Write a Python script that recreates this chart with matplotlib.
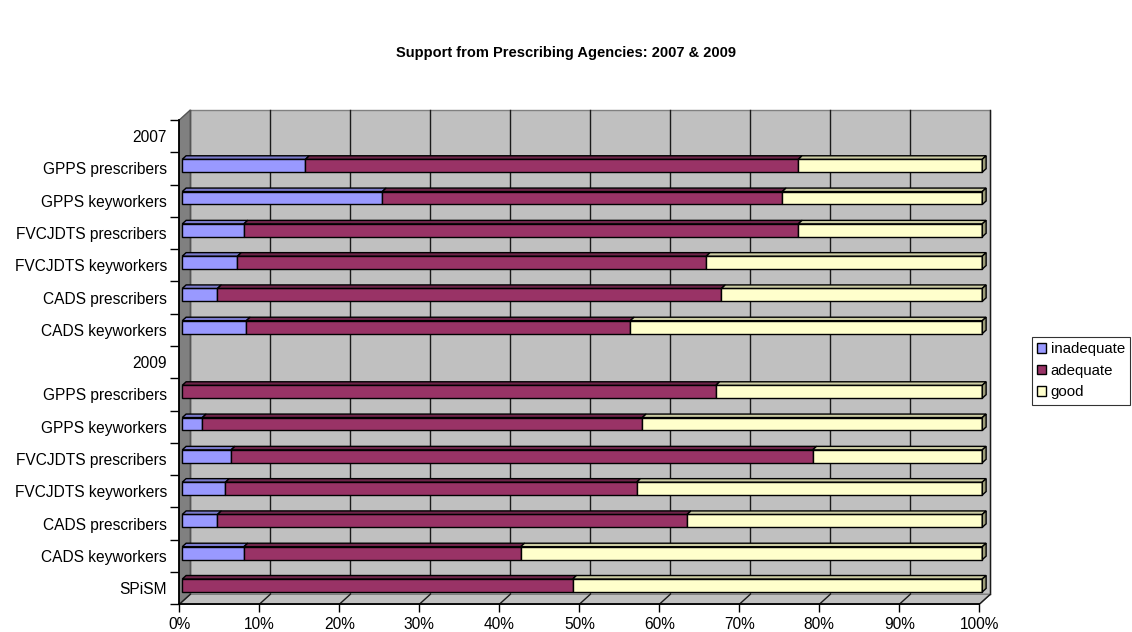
import numpy as np
import matplotlib.pyplot as plt
from matplotlib.patches import Polygon, Patch

plt.rcParams['font.family'] = ['Liberation Sans', 'DejaVu Sans']

# rows from top to bottom; "2007"/"2009" are group headers with no bars
categories = ['2007', 'GPPS prescribers', 'GPPS keyworkers', 'FVCJDTS prescribers',
              'FVCJDTS keyworkers', 'CADS prescribers', 'CADS keyworkers',
              '2009', 'GPPS prescribers', 'GPPS keyworkers', 'FVCJDTS prescribers',
              'FVCJDTS keyworkers', 'CADS prescribers', 'CADS keyworkers', 'SPiSM']
inadequate = [0, 15.4, 25.0, 7.7, 6.9, 4.4, 8.0, 0, 0, 2.5, 6.1, 5.4, 4.4, 7.7, 0]
adequate = [0, 61.6, 50.0, 69.3, 58.6, 63.0, 48.0, 0, 66.7, 55.0, 72.7, 51.4, 58.7, 34.6, 48.8]
good = [0, 23.0, 25.0, 23.0, 34.5, 32.6, 44.0, 0, 33.3, 42.5, 21.2, 43.2, 36.9, 57.7, 51.2]

series_names = ['inadequate', 'adequate', 'good']
face_colors = ['#9999FF', '#993366', '#FFFFCC']
top_colors = ['#7A7ACC', '#6E2449', '#CCCCA3']
cap_color = '#9C9C78'

W, H = 1132, 632
fig = plt.figure(figsize=(W / 100, H / 100), dpi=100)

# front plane of the 3D box in pixels
left_px, right_px, top_px, bottom_px = 179.3, 979.3, 120.0, 604.3
ax = fig.add_axes([left_px / W, 1 - bottom_px / H,
                   (right_px - left_px) / W, (bottom_px - top_px) / H])
n = len(categories)
ax.set_xlim(0, 100)
ax.set_ylim(n - 0.5, -0.5)
ax.set_facecolor('none')

px_x = (right_px - left_px) / 100.0
px_y = (bottom_px - top_px) / n
DX = 11 / px_x          # depth offset in data units
DY = -10 / px_y
y0, y1 = -0.5, n - 0.5

# back wall + gridlines
ax.add_patch(Polygon([(DX, y0 + DY), (100 + DX, y0 + DY), (100 + DX, y1 + DY), (DX, y1 + DY)],
                     closed=True, fc='#C0C0C0', ec='#808080', lw=1, zorder=0, clip_on=False))
for x in range(0, 101, 10):
    ax.plot([x + DX, x + DX], [y0 + DY, y1 + DY], color='#1a1a1a', lw=1, zorder=1, clip_on=False)

# side wall and floor
ax.add_patch(Polygon([(0, y0), (DX, y0 + DY), (DX, y1 + DY), (0, y1)],
                     closed=True, fc='#808080', ec='#555555', lw=1, zorder=2, clip_on=False))
ax.add_patch(Polygon([(0, y1), (100, y1), (100 + DX, y1 + DY), (DX, y1 + DY)],
                     closed=True, fc='#C0C0C0', ec='#808080', lw=1, zorder=2, clip_on=False))
for x in range(0, 101, 10):
    ax.plot([x, x + DX], [y1, y1 + DY], color='#1a1a1a', lw=1, zorder=2, clip_on=False)

# bars, placed partway into the depth
f0, f1 = 0.27, 0.62
bh = 0.40
ddx, ddy = (f1 - f0) * DX, (f1 - f0) * DY
values = np.array([inadequate, adequate, good])
cum = np.zeros(n)
for k in range(3):
    for i in range(n):
        w = values[k, i]
        if w <= 0:
            continue
        x0 = cum[i] + f0 * DX
        yc = i + f0 * DY
        ax.barh(yc, w, left=x0, height=bh, color=face_colors[k], edgecolor='black',
                lw=1, zorder=5, clip_on=False)
        yt = yc - bh / 2
        ax.add_patch(Polygon([(x0, yt), (x0 + w, yt), (x0 + w + ddx, yt + ddy), (x0 + ddx, yt + ddy)],
                             closed=True, fc=top_colors[k], ec='black', lw=1, zorder=5, clip_on=False))
        if k == 2:
            xr = x0 + w
            ax.add_patch(Polygon([(xr, yt), (xr + ddx, yt + ddy), (xr + ddx, yt + bh + ddy), (xr, yt + bh)],
                                 closed=True, fc=cap_color, ec='black', lw=1, zorder=5, clip_on=False))
    cum += values[k]

# axes
for s in ['top', 'right']:
    ax.spines[s].set_visible(False)
for s in ['left', 'bottom']:
    ax.spines[s].set_color('black')
    ax.spines[s].set_linewidth(1.3)
    ax.spines[s].set_zorder(6)

ax.set_yticks(range(n))
ax.set_yticklabels(categories, fontsize=11.2)
ax.set_yticks(np.arange(-0.5, n, 1), minor=True)
ax.tick_params(axis='y', which='major', length=0, pad=9)
ax.tick_params(axis='y', which='minor', length=6.5, width=1, color='black')
ax.set_xticks(range(0, 101, 10))
ax.set_xticklabels([f'{v}%' for v in range(0, 101, 10)], fontsize=11.2)
ax.tick_params(axis='x', length=6, width=1, color='black', pad=3.5)

fig.text(0.5, 1 - 53 / H, 'Support from Prescribing Agencies: 2007 & 2009',
         ha='center', va='center', fontsize=10.5, fontweight='bold')

handles = [Patch(facecolor=c, edgecolor='black', lw=1) for c in face_colors]
leg = fig.legend(handles, series_names, loc='upper left',
                 bbox_to_anchor=(1032 / W, 1 - 337 / H), frameon=True, fancybox=False,
                 edgecolor='black', fontsize=10.8, handlelength=0.6, handleheight=0.6,
                 handletextpad=0.3, labelspacing=0.5, borderpad=0.35, borderaxespad=0)
leg.get_frame().set_linewidth(0.8)

fig.savefig('out.png', dpi=100, facecolor='white')
